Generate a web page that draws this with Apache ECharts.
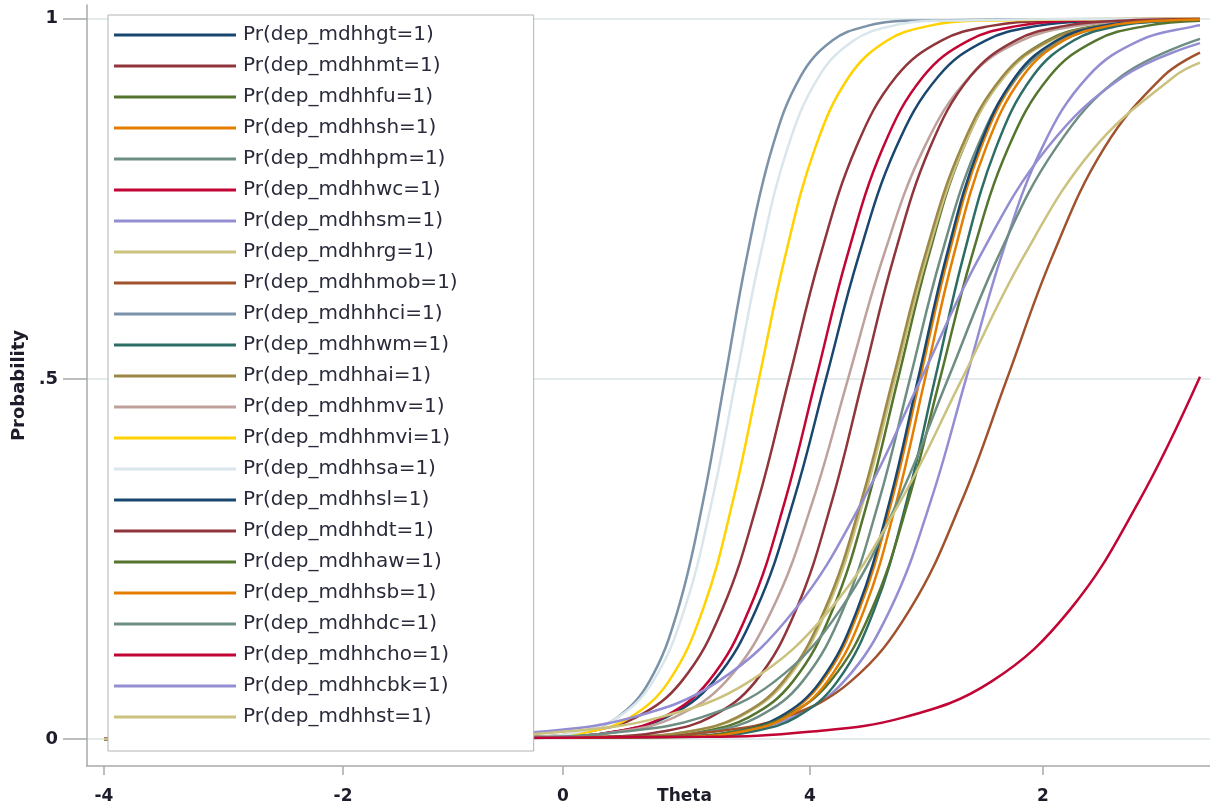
<!DOCTYPE html>
<html><head><meta charset="utf-8">
<script src="https://cdn.jsdelivr.net/npm/echarts@6/dist/echarts.min.js"></script>
<style>html,body{margin:0;padding:0;background:#fff}#c{width:1210px;height:808px}</style>
</head><body><div id="c"></div>
<script>
// ---- data (x = Theta position, y = probability) ----
const seriesNames = ['Pr(dep_mdhhgt=1)','Pr(dep_mdhhmt=1)','Pr(dep_mdhhfu=1)','Pr(dep_mdhhsh=1)','Pr(dep_mdhhpm=1)','Pr(dep_mdhhwc=1)','Pr(dep_mdhhsm=1)','Pr(dep_mdhhrg=1)','Pr(dep_mdhhmob=1)','Pr(dep_mdhhhci=1)','Pr(dep_mdhhwm=1)','Pr(dep_mdhhai=1)','Pr(dep_mdhhmv=1)','Pr(dep_mdhhmvi=1)','Pr(dep_mdhhsa=1)','Pr(dep_mdhhsl=1)','Pr(dep_mdhhdt=1)','Pr(dep_mdhhaw=1)','Pr(dep_mdhhsb=1)','Pr(dep_mdhhdc=1)','Pr(dep_mdhhcho=1)','Pr(dep_mdhhcbk=1)','Pr(dep_mdhhst=1)'];
const seriesColors = ['#1a476f','#90353b','#55752f','#e37e00','#6e8e84','#c10534','#938dd2','#cac27e','#a0522d','#7b92a8','#2d6d66','#9c8847','#bfa19c','#ffd200','#d9e6eb','#1a476f','#90353b','#55752f','#e37e00','#6e8e84','#c10534','#938dd2','#cac27e'];
const xTickValues = [-4, -2.255, -0.65, 1.153, 2.854];
const xTickLabels = ['-4', '-2', '0', '4', '2'];
const yTickValues = [0, 0.5, 1];
const yTickLabels = ['0', '.5', '1'];

const gt = [[-4,0],[-0.682,0.003],[-0.274,0.01],[0.102,0.03],[0.449,0.08],[0.761,0.18],[1.032,0.33],[1.27,0.5],[1.508,0.67],[1.779,0.82],[2.091,0.92],[2.438,0.97],[2.814,0.99],[3.222,0.997],[4,1]];
const mt = [[-4,0],[-0.865,0.003],[-0.475,0.01],[-0.116,0.03],[0.216,0.08],[0.513,0.18],[0.773,0.33],[1,0.5],[1.227,0.67],[1.487,0.82],[1.784,0.92],[2.116,0.97],[2.475,0.99],[2.865,0.997],[4,1]];
const fu = [[-4,0],[-0.028,0.003],[0.353,0.01],[0.705,0.03],[1.029,0.08],[1.32,0.18],[1.574,0.33],[1.796,0.5],[2.018,0.67],[2.272,0.82],[2.563,0.92],[2.887,0.97],[3.239,0.99],[3.62,0.997],[4,0.999]];
const sh = [[-4,0],[0.259,0.003],[0.614,0.01],[0.941,0.03],[1.243,0.08],[1.513,0.18],[1.749,0.33],[1.956,0.5],[2.163,0.67],[2.399,0.82],[2.669,0.92],[2.971,0.97],[3.298,0.99],[3.653,0.997],[4,0.999]];
const pm = [[-4,0],[0.018,0.003],[0.408,0.01],[0.767,0.03],[1.099,0.08],[1.396,0.18],[1.656,0.33],[1.883,0.5],[2.11,0.67],[2.37,0.82],[2.667,0.92],[2.999,0.97],[3.358,0.99],[3.748,0.997],[4,0.999]];
const wc = [[-4,0],[-0.668,0.003],[-0.278,0.01],[0.081,0.03],[0.413,0.08],[0.71,0.18],[0.97,0.33],[1.197,0.5],[1.424,0.67],[1.684,0.82],[1.981,0.92],[2.313,0.97],[2.672,0.99],[3.062,0.997],[4,1]];
const sm = [[-4,0],[0.171,0.003],[0.615,0.01],[1.023,0.03],[1.401,0.08],[1.739,0.18],[2.034,0.33],[2.292,0.5],[2.55,0.67],[2.845,0.82],[3.183,0.92],[3.561,0.97],[3.969,0.99],[4,0.991]];
const rg = [[-4,0],[-0.132,0.003],[0.267,0.01],[0.634,0.03],[0.973,0.08],[1.277,0.18],[1.542,0.33],[1.774,0.5],[2.006,0.67],[2.271,0.82],[2.575,0.92],[2.914,0.97],[3.281,0.99],[3.68,0.997],[4,0.999]];
const mob = [[-4,0],[-0.122,0.003],[0.445,0.01],[0.968,0.03],[1.451,0.08],[1.883,0.18],[2.26,0.33],[2.591,0.5],[2.922,0.67],[3.299,0.82],[3.731,0.92],[4,0.953]];
const hci = [[-4,0],[-0.78,0.003],[-0.505,0.01],[-0.253,0.03],[-0.019,0.08],[0.19,0.18],[0.373,0.33],[0.533,0.5],[0.693,0.67],[0.876,0.82],[1.085,0.92],[1.319,0.97],[1.571,0.99],[1.846,0.997],[4,1]];
const wm = [[-4,0],[0.369,0.003],[0.724,0.01],[1.051,0.03],[1.353,0.08],[1.623,0.18],[1.859,0.33],[2.066,0.5],[2.273,0.67],[2.509,0.82],[2.779,0.92],[3.081,0.97],[3.408,0.99],[3.763,0.997],[4,0.999]];
const ai = [[-4,0],[-0.147,0.003],[0.252,0.01],[0.619,0.03],[0.958,0.08],[1.262,0.18],[1.527,0.33],[1.759,0.5],[1.991,0.67],[2.256,0.82],[2.56,0.92],[2.899,0.97],[3.266,0.99],[3.665,0.997],[4,0.999]];
const mv = [[-4,0],[-0.69,0.003],[-0.246,0.01],[0.162,0.03],[0.54,0.08],[0.878,0.18],[1.173,0.33],[1.431,0.5],[1.689,0.67],[1.984,0.82],[2.322,0.92],[2.7,0.97],[3.108,0.99],[3.552,0.997],[4,0.999]];
const mvi = [[-4,0],[-0.788,0.003],[-0.46,0.01],[-0.158,0.03],[0.122,0.08],[0.372,0.18],[0.59,0.33],[0.781,0.5],[0.972,0.67],[1.19,0.82],[1.44,0.92],[1.72,0.97],[2.022,0.99],[2.35,0.997],[4,1]];
const sa = [[-4,0],[-0.828,0.003],[-0.527,0.01],[-0.249,0.03],[0.007,0.08],[0.237,0.18],[0.437,0.33],[0.613,0.5],[0.789,0.67],[0.989,0.82],[1.219,0.92],[1.475,0.97],[1.753,0.99],[2.054,0.997],[4,1]];
const sl = [[-4,0],[0.245,0.003],[0.6,0.01],[0.927,0.03],[1.229,0.08],[1.499,0.18],[1.735,0.33],[1.942,0.5],[2.149,0.67],[2.385,0.82],[2.655,0.92],[2.957,0.97],[3.284,0.99],[3.639,0.997],[4,0.999]];
const dt = [[-4,0],[-0.325,0.003],[0.065,0.01],[0.424,0.03],[0.756,0.08],[1.053,0.18],[1.313,0.33],[1.54,0.5],[1.767,0.67],[2.027,0.82],[2.324,0.92],[2.656,0.97],[3.015,0.99],[3.405,0.997],[4,0.9995]];
const aw = [[-4,0],[0.196,0.003],[0.595,0.01],[0.962,0.03],[1.301,0.08],[1.605,0.18],[1.87,0.33],[2.102,0.5],[2.334,0.67],[2.599,0.82],[2.903,0.92],[3.242,0.97],[3.609,0.99],[4,0.997]];
const sb = [[-4,0],[0.296,0.003],[0.651,0.01],[0.978,0.03],[1.28,0.08],[1.55,0.18],[1.786,0.33],[1.993,0.5],[2.2,0.67],[2.436,0.82],[2.706,0.92],[3.008,0.97],[3.335,0.99],[3.69,0.997],[4,0.999]];
const dc = [[-4,0],[-0.849,0.003],[-0.219,0.01],[0.36,0.03],[0.896,0.08],[1.376,0.18],[1.794,0.33],[2.161,0.5],[2.528,0.67],[2.946,0.82],[3.426,0.92],[4,0.972]];
const cho = [[-4,0],[0.391,0.003],[1.144,0.01],[1.838,0.03],[2.479,0.08],[3.053,0.18],[3.554,0.33],[4,0.503]];
const cbk = [[-4,0],[-1.557,0.003],[-0.821,0.01],[-0.142,0.03],[0.484,0.08],[1.045,0.18],[1.535,0.33],[1.964,0.5],[2.393,0.67],[2.883,0.82],[3.444,0.92],[4,0.966]];
const hst = [[-4,0],[-1.426,0.003],[-0.655,0.01],[0.056,0.03],[0.712,0.08],[1.3,0.18],[1.813,0.33],[2.263,0.5],[2.713,0.67],[3.226,0.82],[3.814,0.92],[4,0.939]];

const seriesData = [gt, mt, fu, sh, pm, wc, sm, rg, mob, hci, wm, ai, mv, mvi, sa, sl, dt, aw, sb, dc, cho, cbk, hst];

const chart = echarts.init(document.getElementById('c'), null, {renderer: 'canvas'});
const textDark = '#1c1c2b';
const axisGray = '#a9a9a9';
chart.setOption({
  animation: false,
  backgroundColor: '#ffffff',
  color: seriesColors,
  grid: {left: 87, right: 0, top: 5, bottom: 42, containLabel: false, outerBoundsMode: 'none'},
  xAxis: {
    type: 'value', min: -4.124, max: 4.073,
    name: 'Theta', nameLocation: 'middle', nameGap: 22, nameMoveOverlap: false,
    nameTextStyle: {fontFamily: 'DejaVu Sans', fontWeight: 'bold', fontSize: 17, color: textDark, padding: [0, 0, 0, 72]},
    axisLine: {show: true, onZero: false, lineStyle: {color: axisGray, width: 1.5}},
    axisTick: {show: true, length: 9, customValues: xTickValues, lineStyle: {color: axisGray, width: 1.5}},
    axisLabel: {customValues: xTickValues, margin: 22, fontFamily: 'DejaVu Sans', fontWeight: 'bold', fontSize: 17, color: textDark,
      formatter: v => { const i = xTickValues.findIndex(t => Math.abs(t - v) < 1e-6); return i >= 0 ? xTickLabels[i] : ''; }},
    splitLine: {show: false}
  },
  yAxis: {
    type: 'value', min: -0.0375, max: 1.019,
    name: 'Probability', nameLocation: 'middle', nameGap: 59, nameRotate: 90, nameMoveOverlap: false,
    nameTextStyle: {fontFamily: 'DejaVu Sans', fontWeight: 'bold', fontSize: 18, color: textDark},
    axisLine: {show: true, onZero: false, lineStyle: {color: axisGray, width: 1.5}},
    axisTick: {show: true, length: 24, customValues: yTickValues, lineStyle: {color: axisGray, width: 1.5}},
    axisLabel: {customValues: yTickValues, margin: 29, fontFamily: 'DejaVu Sans', fontWeight: 'bold', fontSize: 18, color: textDark,
      formatter: v => { const i = yTickValues.findIndex(t => Math.abs(t - v) < 1e-6); return i >= 0 ? yTickLabels[i] : ''; }},
    splitLine: {show: true, lineStyle: {color: '#e3ebed', width: 2}}
  },
  legend: {
    orient: 'vertical', left: 108, top: 15,
    padding: [10, 76, 24, 6],
    backgroundColor: '#ffffff', borderColor: '#b3b3b3', borderWidth: 1,
    icon: 'rect', itemWidth: 122, itemHeight: 3, itemGap: 11,
    selectedMode: false,
    textStyle: {fontFamily: 'DejaVu Sans', fontSize: 20, lineHeight: 20, color: '#2a2b3a', padding: [0, 0, 0, 2]},
    data: seriesNames
  },
  series: seriesNames.map((n, i) => ({
    name: n, type: 'line', data: seriesData[i],
    showSymbol: false, symbol: 'none', smooth: 0.4,
    lineStyle: {width: 2.5}
  }))
});
</script></body></html>
